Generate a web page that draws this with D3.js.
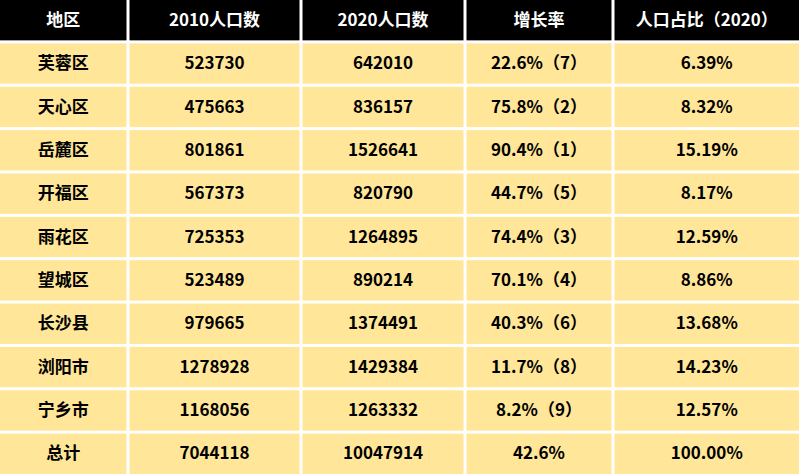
<!DOCTYPE html>
<html><head><meta charset="utf-8">
<script src="https://cdn.jsdelivr.net/npm/d3@7"></script>
<style>body{margin:0;background:#fff}</style>
</head><body><svg id="t" width="799" height="474"></svg>
<script>
var headers = ["地区", "2010人口数", "2020人口数", "增长率", "人口占比（2020）"];
var districts = ["芙蓉区","天心区","岳麓区","开福区","雨花区","望城区","长沙县","浏阳市","宁乡市","总计"];
var pop2010 = [523730,475663,801861,567373,725353,523489,979665,1278928,1168056,7044118];
var pop2020 = [642010,836157,1526641,820790,1264895,890214,1374491,1429384,1263332,10047914];
var growth = ["22.6%（7）","75.8%（2）","90.4%（1）","44.7%（5）","74.4%（3）","70.1%（4）","40.3%（6）","11.7%（8）","8.2%（9）","42.6%"];
var share = ["6.39%","8.32%","15.19%","8.17%","12.59%","8.86%","13.68%","14.23%","12.57%","100.00%"];

var rows = districts.map(function(d, i){
	return [d, pop2010[i], pop2020[i], growth[i], share[i]];
});
var colEdges = [0, 128, 301, 465, 613, 799];
var gap = 3;
var rowH = 474 / (rows.length + 1);
var y = d3.scaleBand().domain(d3.range(rows.length + 1)).range([0, 474 + gap]);

var svg = d3.select("#t");
var all = [headers].concat(rows);
var g = svg.selectAll("g.row").data(all).enter().append("g")
	.attr("transform", function(d, i){ return "translate(0," + y(i) + ")"; });

g.each(function(r, ri){
	var row = d3.select(this);
	r.forEach(function(v, ci){
		var x0 = colEdges[ci] + (ci > 0 ? gap/2 : 0);
		var x1 = colEdges[ci+1] - (ci < 4 ? gap/2 : 0);
		row.append("rect").attr("x", x0).attr("y", 0)
			.attr("width", x1 - x0).attr("height", y.bandwidth() - gap)
			.attr("fill", ri == 0 ? "#000" : "#ffe699");
		row.append("text").attr("x", (x0 + x1) / 2).attr("y", (y.bandwidth() - gap) / 2 + 1)
			.attr("text-anchor", "middle").attr("dominant-baseline", "middle")
			.attr("font-family", "'Noto Sans CJK SC', sans-serif")
			.attr("font-weight", "bold").attr("font-size", 17)
			.attr("fill", ri == 0 ? "#fff" : "#000")
			.text(v);
	});
});
</script></body></html>
